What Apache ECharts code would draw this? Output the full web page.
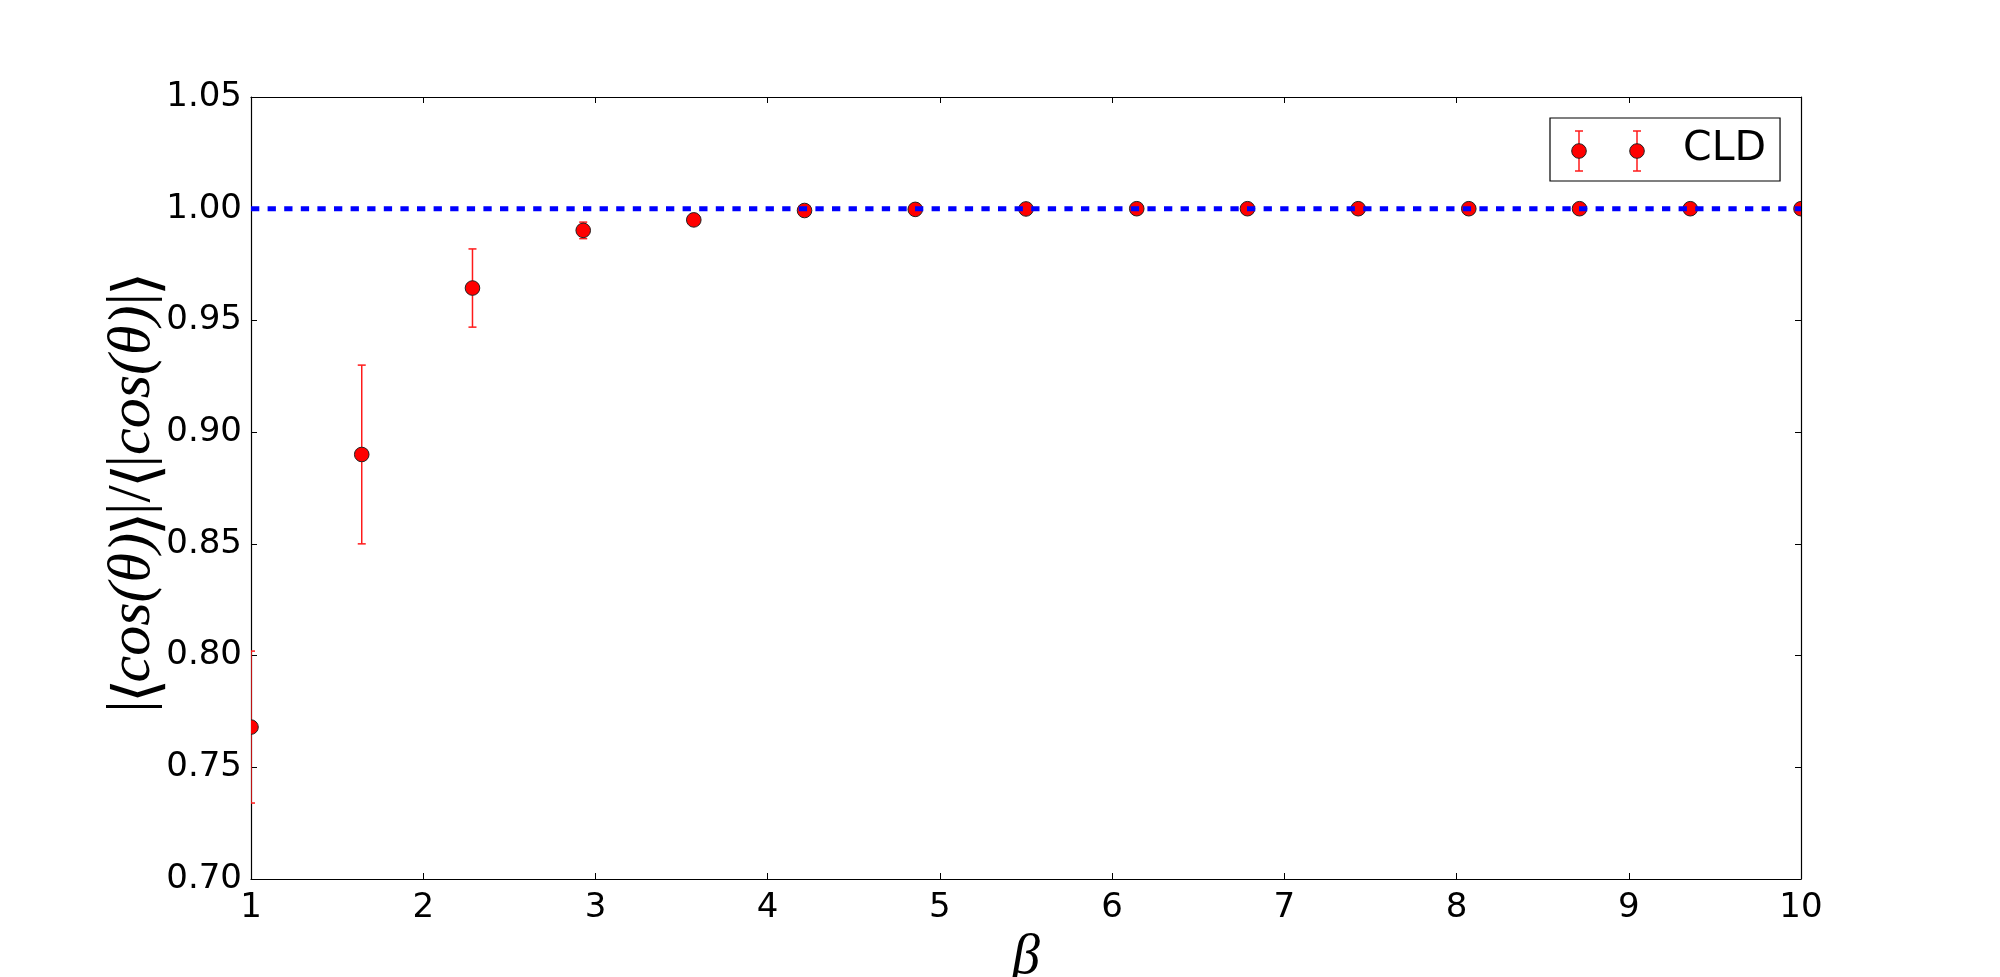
<!DOCTYPE html>
<html><head><meta charset="utf-8">
<script src="https://cdn.jsdelivr.net/npm/echarts@6/dist/echarts.min.js"></script>
<style>html,body{margin:0;padding:0;background:#fff}#c{width:2000px;height:977px}</style>
</head><body><div id="c"></div>
<script>
// ---- data ----
const betaValues  = [1, 1.643, 2.286, 2.929, 3.571, 4.214, 4.857, 5.5, 6.143, 6.786, 7.429, 8.071, 8.714, 9.357, 10];
const ratioValues = [0.768, 0.890, 0.9645, 0.9903, 0.995, 0.9992, 0.9997, 0.9999, 1.0, 1.0, 1.0, 1.0, 1.0, 1.0, 1.0];
const ratioErrors = [0.034, 0.040, 0.0175, 0.0037, 0.0008, 0.0005, 0.0003, 0.0001, 0, 0, 0, 0, 0, 0, 0];
const refLineX = [1, 10];
const refLineY = [1, 1];
const seriesName = 'CLD';
const xAxisName = 'β';
// |⟨cos(θ)⟩|/⟨|cos(θ)|⟩ with per-glyph styling
const yAxisName = '{p||}{b|⟨}{i|cos(θ)}{b|⟩}{p||/}{b|⟨}{p||}{i|cos(θ)}{p||}{b|⟩}';

const chart = echarts.init(document.getElementById('c'));
const tickFont = {fontFamily: 'DejaVu Sans', fontSize: 34, color: '#000'};
const axisLine = {show: true, lineStyle: {color: '#000', width: 1.2}};
const axisTick = {show: true, inside: true, length: 6, lineStyle: {color: '#000', width: 1}};

const points = betaValues.map((b, i) => [b, ratioValues[i], ratioErrors[i]]);
const refData = refLineX.map((x, i) => [x, refLineY[i]]);

function drawErr(cx, cy, half) {
  const st = {stroke: '#ff1a1a', lineWidth: 1.5};
  return [
    {type: 'line', z: 100, shape: {x1: cx, y1: cy - half, x2: cx, y2: cy + half}, style: st},
    {type: 'line', z: 100, shape: {x1: cx - 4, y1: cy - half, x2: cx + 4, y2: cy - half}, style: st},
    {type: 'line', z: 100, shape: {x1: cx - 4, y1: cy + half, x2: cx + 4, y2: cy + half}, style: st},
    {type: 'circle', z: 101, shape: {cx: cx, cy: cy, r: 7.3}, style: {fill: '#ff0000', stroke: '#222', lineWidth: 1}}
  ];
}

chart.setOption({
  backgroundColor: '#fff',
  animation: false,
  grid: {left: 251, right: 199, top: 97, bottom: 98, containLabel: false, outerBoundsMode: 'none'},
  legend: {
    left: 1550, top: 118, z: 10,
    padding: [11, 14, 11, 118],
    backgroundColor: 'rgba(255,255,255,0)', borderColor: '#000', borderWidth: 1.2, borderRadius: 0,
    itemWidth: 10, itemHeight: 10, itemGap: 5,
    icon: 'rect',
    itemStyle: {opacity: 0},
    textStyle: {fontFamily: 'DejaVu Sans', fontSize: 41, color: '#000'},
    data: [seriesName],
    selectedMode: false
  },
  graphic: {elements: [
    {type: 'group', z: 100, children: drawErr(1579, 151, 20)},
    {type: 'group', z: 100, children: drawErr(1637, 151, 20)},
    {type: 'text', z: 100, x: 133, y: 494, rotation: Math.PI / 2,
     style: {
       text: yAxisName, align: 'center', verticalAlign: 'middle',
       fill: '#000', font: 'italic 60px "Liberation Serif"',
       rich: {
         p: {fontFamily: 'Liberation Serif', fontStyle: 'normal', fontSize: 62, fill: '#000'},
         b: {fontFamily: 'Noto Sans CJK SC', fontStyle: 'normal', fontWeight: 300, fontSize: 62, width: 18, align: 'center', fill: '#000'},
         i: {fontFamily: 'Liberation Serif', fontStyle: 'italic', fontSize: 60, fill: '#000'}
       }
     }}
  ]},
  xAxis: [
    {type: 'value', min: 1, max: 10, interval: 1, position: 'bottom',
     axisLine, axisTick, splitLine: {show: false},
     axisLabel: Object.assign({margin: 12}, tickFont),
     name: xAxisName, nameLocation: 'middle', nameGap: 27,
     nameTextStyle: {fontFamily: 'Liberation Serif', fontStyle: 'italic', fontSize: 56, color: '#000'}},
    {type: 'value', min: 1, max: 10, interval: 1, position: 'top',
     axisLine, axisTick, splitLine: {show: false}, axisLabel: {show: false}}
  ],
  yAxis: [
    {type: 'value', min: 0.7, max: 1.05, interval: 0.05, position: 'left',
     axisLine, axisTick, splitLine: {show: false},
     axisLabel: Object.assign({margin: 9, formatter: v => v.toFixed(2)}, tickFont)},
    {type: 'value', min: 0.7, max: 1.05, interval: 0.05, position: 'right',
     axisLine, axisTick, splitLine: {show: false}, axisLabel: {show: false}}
  ],
  series: [
    {
      name: seriesName, type: 'custom', z: 2, clip: true,
      data: points,
      encode: {x: 0, y: 1},
      renderItem(params, api) {
        const x = api.value(0), y = api.value(1), e = api.value(2);
        const c = api.coord([x, y]);
        const t = api.coord([x, y + e]);
        const b = api.coord([x, y - e]);
        const st = {stroke: '#ff1a1a', lineWidth: 1.5};
        return {type: 'group', children: [
          {type: 'line', shape: {x1: c[0], y1: t[1], x2: c[0], y2: b[1]}, style: st},
          {type: 'line', shape: {x1: c[0] - 4, y1: t[1], x2: c[0] + 4, y2: t[1]}, style: st},
          {type: 'line', shape: {x1: c[0] - 4, y1: b[1], x2: c[0] + 4, y2: b[1]}, style: st},
          {type: 'circle', shape: {cx: c[0], cy: c[1], r: 7.3}, style: {fill: '#ff0000', stroke: '#222', lineWidth: 1}}
        ]};
      }
    },
    {
      name: 'ref', type: 'line', z: 5, data: refData, symbol: 'none', silent: true,
      lineStyle: {color: '#0000ff', width: 5, type: [8.3, 8.3], dashOffset: 0, cap: 'butt'}
    }
  ]
});
</script></body></html>
